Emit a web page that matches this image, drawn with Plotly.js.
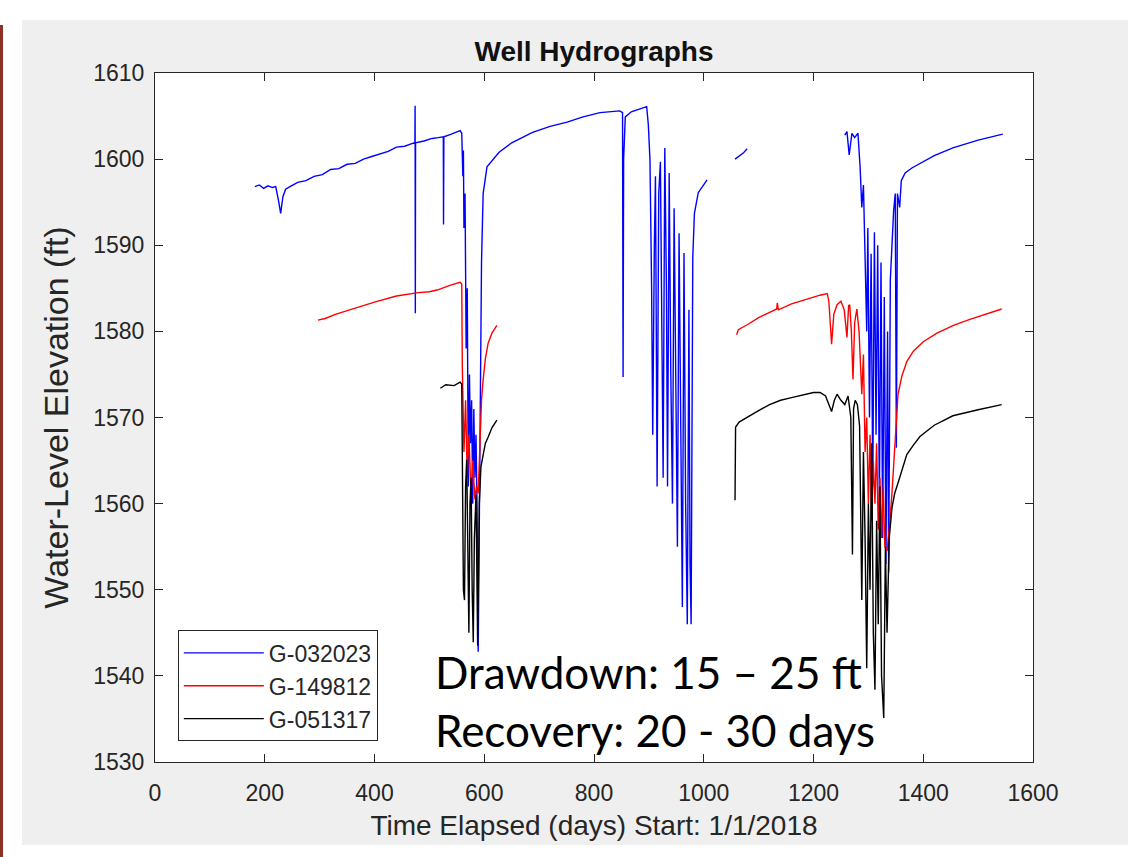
<!DOCTYPE html>
<html>
<head>
<meta charset="utf-8">
<script src="https://cdn.plot.ly/plotly-3.0.1.min.js"></script>
<style>
  html, body { margin: 0; padding: 0; background: #ffffff; width: 1140px; height: 857px; overflow: hidden; }
  #edge { position: absolute; left: 0; top: 25px; width: 3px; height: 832px; background: #8a3322; }
  #chart { position: absolute; left: 22px; top: 20px; width: 1106px; height: 825px; }
</style>
</head>
<body>
<div id="edge"></div>
<div id="chart"></div>
<script>
// ---- Data (days since 1/1/2018, water-level elevation in ft) ----
const seriesNames = ["G-032023", "G-149812", "G-051317"];

const days_G032023 = [
  182,190,198,206,214,220,225,229,233,238,246,260,275,290,305,320,335,350,365,380,395,410,425,440,455,468,
  473.6,474,474.4,474.8,490,505,516,525.4,525.8,526.4,540,556,
  559,561,562,563,565,567,569,571,573,575,577,579,581,583,585,587,589,591,593,595,598,605,627,650,688,720,751,780,811,847,852,853,854,857,868,896,899,902,
  905,907,910,912,915,918,921,924,926,929,932,934,937,940,943,946,949,952,955,958,961,964,967,970,973,975,977,980,983,990,1006,
  null,
  1057,1065,1072,1079,
  null,
  1257,1261,1265,1270,1275,1281,1285,1288,1291,1294,1297,1299,1302,1305,1308,1311,1314,1317,1320,1323,1326,1329,1332,1335,1337,1340,1343,1346,1349,1351,1353,1357,1360,1367,1380,1394,1420,1454,1500,1545
];
const elev_G032023 = [
  1596.8,1597.0,1596.6,1596.9,1596.7,1596.8,1595.2,1593.7,1595.6,1596.5,1596.8,1597.3,1597.5,1598.0,1598.2,1598.8,1598.9,1599.4,1599.5,1600.0,1600.3,1600.6,1600.9,1601.4,1601.5,1601.8,
  1601.9,1606.2,1582.1,1601.9,1602.1,1602.4,1602.5,1602.6,1592.4,1602.6,1602.9,1603.3,
  1603.0,1598,1601,1592,1596,1578,1585,1562,1575,1567,1572,1560,1571,1563,1568,1559.3,1542.8,1560,1572,1588,1596,1599.1,1600.8,1601.9,1603.1,1603.8,1604.3,1604.9,1605.4,1605.6,1605.4,1574.7,1600,1604.9,1605.5,1606.1,1604,1599.9,
  1585,1568,1590,1598,1562,1596,1599.7,1580,1563,1601.3,1585,1562,1598.4,1575,1560,1594.3,1570,1555,1591.4,1565,1548,1589.1,1560,1546,1582.5,1553,1546,1588.6,1593.7,1596.1,1597.6,
  null,
  1600.0,1600.4,1600.7,1601.2,
  null,
  1602.8,1603.2,1600.5,1603.0,1602.5,1603.0,1599,1594.4,1597,1588,1580,1592,1570,1589,1562,1591.5,1568,1590,1560,1588,1556,1584,1553,1580,1552,1586,1591,1594,1596,1566.5,1596,1594.4,1597.5,1598.4,1599,1599.5,1600.4,1601.3,1602.2,1602.9
];

const days_G149812 = [
  297,310,330,360,400,440,480,500,514,540,556,559,560,563,566,569,572,576,579,583,586,589,592,595,598,602,607,614,623,
  null,
  1060,1063,1080,1100,1120,1133,1134,1136,1160,1190,1212,1225,1228,1233,1237,1243,1250,1256,1261,1264,1266,1269,1272,1275,1279,1283,1286,1288,1291,1294,1297,1300,1303,1306,1309,1312,1315,1318,1321,1324,1327,1330,1334,1338,1343,1348,1354,1361,1370,1382,1400,1425,1455,1485,1515,1543
];
const elev_G149812 = [
  1581.3,1581.5,1582.0,1582.6,1583.4,1584.1,1584.5,1584.6,1584.8,1585.4,1585.7,1585.5,1576,1566,1572,1563,1568,1561,1565,1560.5,1562,1561.2,1566,1572,1574.4,1576.8,1578.6,1579.8,1580.7,
  null,
  1579.6,1580.2,1580.8,1581.6,1582.2,1582.6,1583.3,1582.5,1583.2,1583.8,1584.2,1584.4,1583.5,1578.5,1582,1583.1,1583.5,1582.5,1579.3,1583,1583.1,1580,1574.4,1581,1582.6,1580,1576,1572.7,1577.3,1566,1570,1560,1568,1558,1565,1560,1567,1557,1563,1556,1562,1555,1554.5,1557,1561.2,1567,1572.7,1574.8,1576.5,1577.7,1578.8,1579.8,1580.7,1581.4,1582.0,1582.6
];

const days_G051317 = [
  520,530,545,556,559,560,562,564,566,568,570,572,574,576,578,580,582,585,588,591,594,598,602,607,614,623,
  null,
  1057,1058,1065,1080,1100,1120,1140,1160,1180,1200,1212,1222,1228,1233,1238,1243,1250,1257,1263,1268,1271,1273,1276,1280,1284,1288,1291,1294,1297,1300,1303,1306,1309,1312,1315,1318,1321,1324,1328,1331,1334,1338,1343,1348,1354,1362,1370,1382,1394,1420,1454,1500,1543
];
const elev_G051317 = [
  1573.4,1573.8,1573.7,1574.1,1573.9,1565,1550,1548.8,1562,1565.1,1555,1545,1560,1563,1550,1543.9,1556,1561,1543.5,1560,1564.3,1565.5,1567.0,1567.7,1568.8,1569.7,
  null,
  1560.4,1568.9,1569.5,1570.1,1570.8,1571.5,1572.0,1572.3,1572.6,1572.9,1572.9,1572.5,1571.5,1570.7,1572,1572.7,1572.0,1571.5,1572.5,1570,1554.1,1571,1572,1571.5,1569,1548.8,1566,1556,1540.9,1560,1550,1567,1545,1538.4,1558,1546,1562,1540,1535.1,1555,1545,1556,1559.5,1561.2,1562.4,1564.2,1565.7,1566.8,1567.8,1569.1,1570.2,1570.9,1571.5
];

const xTicks = [0, 200, 400, 600, 800, 1000, 1200, 1400, 1600];
const yTicks = [1530, 1540, 1550, 1560, 1570, 1580, 1590, 1600, 1610];
const noteLines = ["Drawdown: 15 \u2013 25 ft", "Recovery: 20 - 30 days"];

// ---- Plot ----
const FONT = "Liberation Sans, Arial, sans-serif";
const AXC = "#262626";

const traces = [
  {x: days_G032023, y: elev_G032023, name: seriesNames[0], mode: "lines", line: {color: "#0000ff", width: 1.4}, connectgaps: false},
  {x: days_G149812, y: elev_G149812, name: seriesNames[1], mode: "lines", line: {color: "#ff0000", width: 1.4}, connectgaps: false},
  {x: days_G051317, y: elev_G051317, name: seriesNames[2], mode: "lines", line: {color: "#000000", width: 1.4}, connectgaps: false}
];

const axisCommon = {
  showgrid: false, zeroline: false,
  showline: true, linecolor: AXC, linewidth: 1, mirror: "ticks",
  ticks: "inside", ticklen: 8, tickwidth: 1, tickcolor: AXC,
  tickfont: {family: FONT, size: 23, color: AXC},
  tickmode: "array"
};

const layout = {
  width: 1106, height: 825,
  paper_bgcolor: "#efefef", plot_bgcolor: "#ffffff",
  margin: {l: 133, r: 95, t: 53, b: 83},
  showlegend: true,
  title: {text: "<b>Well Hydrographs</b>", font: {family: FONT, size: 28, color: "#111111"}, x: 0.5, xref: "paper", y: 1, yref: "paper", yanchor: "bottom", pad: {b: 12}},
  xaxis: Object.assign({}, axisCommon, {
    range: [0, 1600], tickvals: xTicks, ticktext: xTicks.map(String), ticklabelstandoff: 10,
    title: {text: "Time Elapsed (days) Start: 1/1/2018", font: {family: FONT, size: 28, color: AXC}, standoff: 10}
  }),
  yaxis: Object.assign({}, axisCommon, {
    range: [1530, 1610], tickvals: yTicks, ticktext: yTicks.map(String), ticklabelstandoff: 5,
    title: {text: "Water-Level Elevation (ft)", font: {family: FONT, size: 34, color: AXC}, standoff: 14}
  }),
  legend: {
    x: 0.026, xanchor: "left", y: 0.191, yanchor: "top",
    bgcolor: "#ffffff", bordercolor: AXC, borderwidth: 1,
    font: {family: FONT, size: 23, color: AXC},
    itemwidth: 80, tracegroupgap: 0
  },
  annotations: [
    {x: 507, y: 1540.45, xref: "x", yref: "y", xanchor: "left", yanchor: "middle", showarrow: false,
     text: noteLines[0], font: {family: "Lato, Open Sans, sans-serif", size: 44, color: "#000000"}},
    {x: 507, y: 1533.7, xref: "x", yref: "y", xanchor: "left", yanchor: "middle", showarrow: false,
     text: noteLines[1], font: {family: "Lato, Open Sans, sans-serif", size: 44, color: "#000000"}}
  ]
};

Plotly.newPlot("chart", traces, layout, {displayModeBar: false, staticPlot: true});
</script>
</body>
</html>
